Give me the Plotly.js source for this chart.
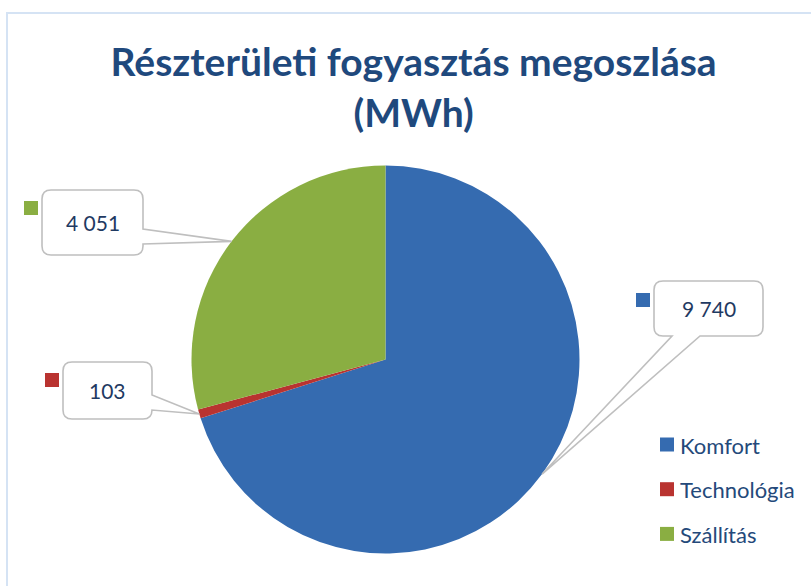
<!DOCTYPE html>
<html>
<head>
<meta charset="utf-8">
<script src="https://cdn.plot.ly/plotly-3.0.1.min.js"></script>
<style>html,body{margin:0;padding:0;background:#fff;}#chart{width:811px;height:586px;}</style>
</head>
<body>
<div id="chart"></div>
<script>
// ---- data ----
const categories = ["Komfort", "Technológia", "Szállítás"];
const values = [9740, 103, 4051];
const colors = ["#356bb0", "#b93330", "#8aae42"];
const titleText = "Részterületi fogyasztás megoszlása<br>(MWh)";

// ---- layout geometry (pixels) ----
const W = 811, H = 586;
const CX = 385.5, CY = 359.5, R = 194;
const px = x => x / W;
const py = y => 1 - y / H;

function fmt(v) { return String(v).replace(/\B(?=(\d{3})+(?!\d))/g, " "); }

// mid-angle tip points computed from the data (clockwise from 12 o'clock)
const total = values.reduce((a, b) => a + b, 0);
const tips = [];
let acc = 0;
values.forEach(v => {
  const mid = (acc + v / 2) / total * 2 * Math.PI;
  tips.push([CX + R * Math.sin(mid), CY - R * Math.cos(mid)]);
  acc += v;
});

// callout boxes: [x0,y0,x1,y1], tail side and tail anchor positions
const boxes = [
  { b: [654, 281, 763, 336], side: "bottom", t: [672, 700], key: [636, 293] },
  { b: [63, 362, 152, 419], side: "right", t: [395, 410], key: [45, 373] },
  { b: [42, 190, 143, 255], side: "right", t: [229, 244], key: [24, 201] }
];

function P(x, y) { return px(x).toFixed(5) + "," + py(y).toFixed(5); }

function calloutPath(bx, tip) {
  const [x0, y0, x1, y1] = bx.b; const r = 9;
  let d = "M" + P(x0 + r, y0) + " L" + P(x1 - r, y0) + " Q" + P(x1, y0) + " " + P(x1, y0 + r);
  if (bx.side === "right") {
    d += " L" + P(x1, bx.t[0]) + " L" + P(tip[0], tip[1]) + " L" + P(x1, bx.t[1]);
  }
  d += " L" + P(x1, y1 - r) + " Q" + P(x1, y1) + " " + P(x1 - r, y1);
  if (bx.side === "bottom") {
    d += " L" + P(bx.t[1], y1) + " L" + P(tip[0], tip[1]) + " L" + P(bx.t[0], y1);
  }
  d += " L" + P(x0 + r, y1) + " Q" + P(x0, y1) + " " + P(x0, y1 - r);
  d += " L" + P(x0, y0 + r) + " Q" + P(x0, y0) + " " + P(x0 + r, y0) + " Z";
  return d;
}

const shapes = [];
const annotations = [];

// outer chart-area border (partly visible)
shapes.push({ type: "rect", xref: "paper", yref: "paper", x0: px(7), y0: py(H + 20), x1: px(W + 20), y1: py(13),
  line: { color: "#d5e3f4", width: 2 }, fillcolor: "rgba(0,0,0,0)", layer: "below" });

boxes.forEach((bx, i) => {
  shapes.push({ type: "path", xref: "paper", yref: "paper", path: calloutPath(bx, tips[i]),
    line: { color: "#bfbfbf", width: 1.6 }, fillcolor: "#ffffff", layer: "above" });
  shapes.push({ type: "rect", xref: "paper", yref: "paper",
    x0: px(bx.key[0]), y0: py(bx.key[1] + 14), x1: px(bx.key[0] + 14), y1: py(bx.key[1]),
    line: { width: 0 }, fillcolor: colors[i] });
  annotations.push({ xref: "paper", yref: "paper", x: px((bx.b[0] + bx.b[2]) / 2), y: py((bx.b[1] + bx.b[3]) / 2),
    xanchor: "center", yanchor: "middle", showarrow: false, text: fmt(values[i]),
    font: { family: "Lato", size: 21, color: "#1f3a62" } });
});

// legend (manual, to match spacing)
categories.forEach((c, i) => {
  const y = 437.5 + i * 44.7;
  shapes.push({ type: "rect", xref: "paper", yref: "paper",
    x0: px(660), y0: py(y + 14), x1: px(674), y1: py(y), line: { width: 0 }, fillcolor: colors[i] });
  annotations.push({ xref: "paper", yref: "paper", x: px(678), y: py(y + 7.5), xanchor: "left", yanchor: "middle",
    showarrow: false, text: c, font: { family: "Lato", size: 22, color: "#24497a" } });
});

const trace = {
  type: "pie",
  labels: categories,
  values: values,
  marker: { colors: colors, line: { width: 0 } },
  sort: false,
  direction: "clockwise",
  rotation: 0,
  textinfo: "none",
  hoverinfo: "label+value+percent",
  showlegend: false,
  domain: { x: [px(CX - R), px(CX + R)], y: [py(CY + R), py(CY - R)] }
};

const layout = {
  width: W, height: H,
  margin: { l: 0, r: 0, t: 0, b: 0 },
  paper_bgcolor: "#ffffff",
  showlegend: false,
  title: { text: titleText, x: 0.51, xanchor: "center", xref: "paper", y: 1 - 76 / H, yanchor: "top", yref: "container",
    font: { family: "Lato", size: 39, weight: "bold", color: "#1f497d" } },
  shapes: shapes,
  annotations: annotations
};

Plotly.newPlot("chart", [trace], layout, { displayModeBar: false, staticPlot: false });
</script>
</body>
</html>
